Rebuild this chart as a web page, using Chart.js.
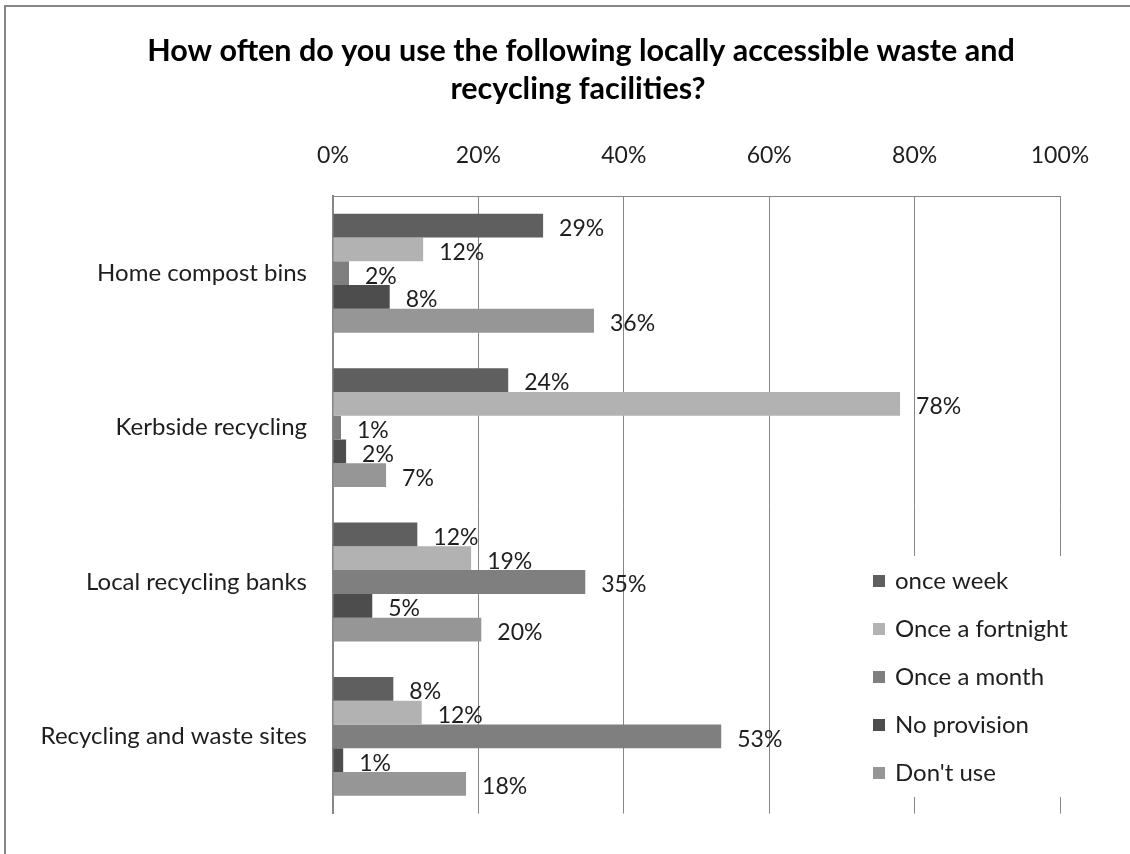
<!DOCTYPE html>
<html>
<head>
<meta charset="utf-8">
<script src="https://cdn.jsdelivr.net/npm/chart.js@4"></script>
<style>
  html, body { margin: 0; padding: 0; background: #fff; }
  canvas { display: block; }
</style>
</head>
<body>
<canvas id="chart" width="1130" height="854"></canvas>
<script>
var categories = ['Home compost bins', 'Kerbside recycling', 'Local recycling banks', 'Recycling and waste sites'];
var seriesNames = ['once week', 'Once a fortnight', 'Once a month', 'No provision', "Don't use"];
var onceWeek = [28.9, 24.1, 11.6, 8.3];
var onceFortnight = [12.4, 78.0, 19.0, 12.2];
var onceMonth = [2.2, 1.1, 34.7, 53.4];
var noProvision = [7.8, 1.8, 5.4, 1.4];
var dontUse = [35.9, 7.3, 20.4, 18.3];
var xTicks = [0, 20, 40, 60, 80, 100];
var titleLines = ['How often do you use the following locally accessible waste and', 'recycling facilities?'];

var colours = ['#5f5f5f', '#b2b2b2', '#7f7f7f', '#4d4d4d', '#969696'];
var seriesData = [onceWeek, onceFortnight, onceMonth, noProvision, dontUse];
var FONT = 'Lato, "Open Sans", sans-serif';
var TEXT = '#1e1e1e';
var LINE = '#878787';

// frame + title
var framePlugin = {
  id: 'frame',
  beforeDraw: function(chart){
    var c = chart.ctx;
    c.save();
    c.fillStyle = '#fff';
    c.fillRect(0, 0, chart.width, chart.height);
    c.strokeStyle = LINE;
    c.lineWidth = 2;
    c.beginPath();
    c.moveTo(5, chart.height);
    c.lineTo(5, 6);
    c.lineTo(chart.width, 6);
    c.stroke();
    c.restore();
  },
  afterDraw: function(chart){
    var c = chart.ctx;
    c.save();
    c.fillStyle = '#000';
    c.font = 'bold 30.5px ' + FONT;
    c.textAlign = 'center';
    c.textBaseline = 'middle';
    c.fillText(titleLines[0], 581, 51);
    c.fillText(titleLines[1], 578, 89);
    c.restore();
  }
};

// value labels at the end of each bar
var labelPlugin = {
  id: 'barLabels',
  afterDatasetsDraw: function(chart){
    var c = chart.ctx;
    c.save();
    c.font = '23px ' + FONT;
    c.fillStyle = TEXT;
    c.textAlign = 'left';
    c.textBaseline = 'middle';
    chart.data.datasets.forEach(function(ds, i){
      chart.getDatasetMeta(i).data.forEach(function(bar, j){
        c.fillText(Math.round(ds.data[j]) + '%', bar.x + 16, bar.y + 3);
      });
    });
    c.restore();
  }
};

// legend sitting inside the plot, bottom right
var legendPlugin = {
  id: 'boxLegend',
  afterDraw: function(chart){
    var c = chart.ctx;
    c.save();
    c.fillStyle = '#fff';
    c.fillRect(862, 556, 216, 241);
    c.font = '24px ' + FONT;
    c.textAlign = 'left';
    c.textBaseline = 'middle';
    seriesNames.forEach(function(name, i){
      var y = 581 + i * 48;
      c.fillStyle = colours[i];
      c.fillRect(873, y - 6, 12, 12);
      c.fillStyle = TEXT;
      c.fillText(name, 895, y);
    });
    c.restore();
  }
};

var ctx = document.getElementById('chart').getContext('2d');

var chart = new Chart(ctx, {
  type: 'bar',
  data: {
    labels: categories,
    datasets: seriesNames.map(function(name, i){
      return {
        label: name,
        data: seriesData[i],
        backgroundColor: colours[i],
        borderWidth: 0,
        barPercentage: 1,
        categoryPercentage: 0.77
      };
    })
  },
  plugins: [framePlugin, labelPlugin, legendPlugin],
  options: {
    indexAxis: 'y',
    responsive: false,
    animation: false,
    layout: {
      padding: { left: 0, right: 70, top: 0, bottom: 24 }
    },
    plugins: {
      legend: { display: false },
      title: { display: false },
      tooltip: { enabled: false }
    },
    scales: {
      x: {
        position: 'top',
        min: 0,
        max: 100,
        afterBuildTicks: function(scale){
          scale.ticks = xTicks.map(function(v){ return { value: v }; });
        },
        afterFit: function(scale){ scale.height = 196; },
        grid: { color: LINE, lineWidth: 1, drawTicks: false },
        border: { display: true, color: LINE, width: 1 },
        ticks: {
          padding: 27,
          color: TEXT,
          font: { family: FONT, size: 23 },
          callback: function(v){ return v + '%'; }
        }
      },
      y: {
        afterFit: function(scale){ scale.width = 333; },
        grid: { display: false, drawTicks: false },
        border: { display: true, color: LINE, width: 2 },
        ticks: {
          padding: 26,
          color: TEXT,
          font: { family: FONT, size: 24 }
        }
      }
    }
  }
});
</script>
</body>
</html>
